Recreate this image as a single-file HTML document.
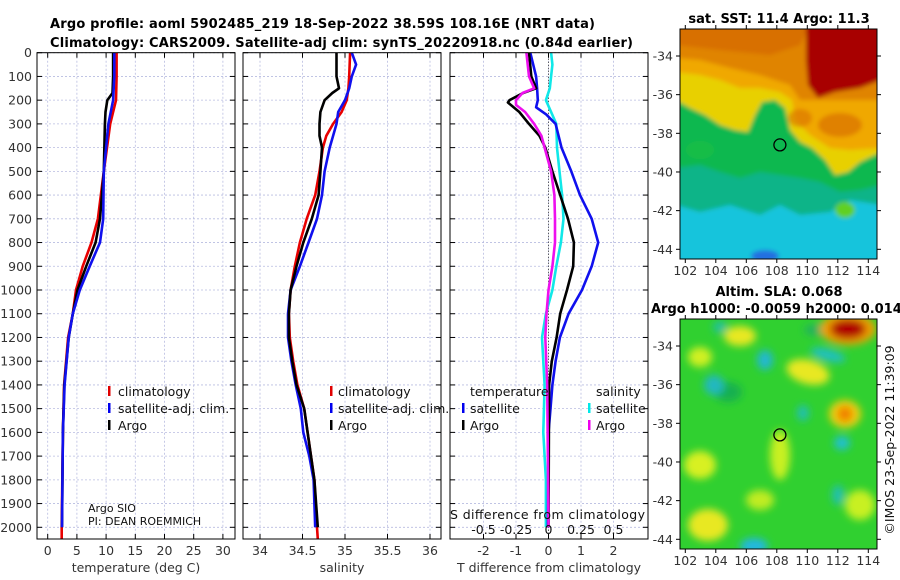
<!DOCTYPE html>
<html><head><meta charset="utf-8">
<style>
html,body{margin:0;padding:0;background:#fff;}
svg{display:block;font-family:"DejaVu Sans","Liberation Sans",sans-serif;}
</style></head>
<body>
<svg id="fig" width="900" height="580" viewBox="0 0 900 580" xmlns="http://www.w3.org/2000/svg">
<defs>
<clipPath id="c1"><rect x="37" y="52.7" width="198" height="486.3"/></clipPath>
<clipPath id="c2"><rect x="243" y="52.7" width="198" height="486.3"/></clipPath>
<clipPath id="c3"><rect x="450" y="52.7" width="198" height="486.3"/></clipPath>
<clipPath id="m1"><rect x="680" y="29" width="197" height="230"/></clipPath>
<clipPath id="m2"><rect x="680" y="319" width="197" height="230"/></clipPath>
<filter id="bl" x="-5%" y="-5%" width="110%" height="110%"><feGaussianBlur stdDeviation="2"/></filter>
<filter id="bl2" x="-20%" y="-20%" width="140%" height="140%"><feGaussianBlur stdDeviation="4"/></filter>
</defs>
<text x="50" y="28" font-size="13" font-weight="bold" textLength="545">Argo profile: aoml 5902485_219 18-Sep-2022 38.59S 108.16E (NRT data)</text>
<text x="50" y="47" font-size="13" font-weight="bold" textLength="583">Climatology: CARS2009. Satellite-adj clim: synTS_20220918.nc (0.84d earlier)</text>

<g id="grid"></g>
<g id="series"></g>
<g id="axes"></g>

<g font-size="12.5" fill="#111">
<rect x="108" y="386" width="2.5" height="10" fill="#e00000"/><text x="118" y="396">climatology</text>
<rect x="108" y="403" width="2.5" height="10" fill="#0000ee"/><text x="118" y="413">satellite-adj. clim.</text>
<rect x="108" y="420" width="2.5" height="10" fill="#000"/><text x="118" y="430">Argo</text>
</g>
<g font-size="12.5" fill="#111">
<rect x="330" y="386" width="2.5" height="10" fill="#e00000"/><text x="338" y="396">climatology</text>
<rect x="330" y="403" width="2.5" height="10" fill="#0000ee"/><text x="338" y="413">satellite-adj. clim.</text>
<rect x="330" y="420" width="2.5" height="10" fill="#000"/><text x="338" y="430">Argo</text>
</g>
<g font-size="12.5" fill="#111">
<text x="470" y="396">temperature</text>
<rect x="462" y="403" width="2.5" height="10" fill="#0000ee"/><text x="470" y="413">satellite</text>
<rect x="462" y="420" width="2.5" height="10" fill="#000"/><text x="470" y="430">Argo</text>
<text x="596" y="396">salinity</text>
<rect x="588" y="403" width="2.5" height="10" fill="#00e8e8"/><text x="596" y="413">satellite</text>
<rect x="588" y="420" width="2.5" height="10" fill="#ee00ee"/><text x="596" y="430">Argo</text>
</g>
<g font-size="11" fill="#111">
<text x="88" y="512">Argo SIO</text>
<text x="88" y="525">PI: DEAN ROEMMICH</text>
</g>
<text x="450" y="519" font-size="12.5" fill="#111" textLength="195">S difference from climatology</text>
<g id="sdiffticks" font-size="12.5" fill="#111" text-anchor="middle"></g>

<!-- SST map -->
<g>
<g clip-path="url(#m1)">
<g filter="url(#bl)">
<rect x="676" y="25" width="205" height="238" fill="#18c4dc"/>
<path d="M676,25 L881,25 L881,205 L850,200 L830,212 L800,215 L780,205 L760,215 L730,205 L700,212 L676,205 Z" fill="#10b488"/>
<path d="M676,25 L881,25 L881,185 L860,190 L840,192 L820,182 L800,178 L780,175 L760,172 L740,178 L720,172 L700,165 L676,168 Z" fill="#10b850"/>
<path d="M676,25 L881,25 L881,152 L860,162 L848,172 L835,175 L825,160 L812,148 L800,142 L790,130 L785,108 L775,100 L762,102 L755,115 L748,132 L735,130 L720,125 L705,115 L690,108 L676,100 Z" fill="#e8d000"/>
<path d="M676,25 L881,25 L881,148 L850,150 L830,148 L810,135 L795,120 L792,100 L780,92 L760,88 L740,88 L720,80 L700,75 L676,72 Z" fill="#f0a800"/>
<path d="M676,25 L881,25 L881,100 L800,100 L790,85 L760,75 L730,68 L700,60 L676,58 Z" fill="#e08400"/>
<path d="M676,25 L810,25 L800,45 L770,55 L720,50 L676,45 Z" fill="#d87000"/>
<path d="M806,25 L881,25 L881,80 L860,88 L835,92 L818,98 L808,85 L806,60 Z" fill="#a80000"/>
<ellipse cx="840" cy="125" rx="22" ry="12" fill="#d87000" opacity="0.7"/>
<ellipse cx="800" cy="118" rx="12" ry="9" fill="#d87000" opacity="0.6"/>
<ellipse cx="845" cy="210" rx="10" ry="8" fill="#60d020"/>
<ellipse cx="765" cy="256" rx="14" ry="6" fill="#2070e0"/>
<ellipse cx="700" cy="150" rx="14" ry="9" fill="#20c040" opacity="0.6"/>
</g>
</g>
<rect x="680" y="29" width="197" height="230" fill="none" stroke="#000" stroke-width="1"/>
<g clip-path="url(#m1)"><ellipse cx="884" cy="56" rx="7" ry="24" fill="none" stroke="#000" stroke-width="1.2"/></g>
<circle cx="779.9" cy="144.9" r="6" fill="none" stroke="#000" stroke-width="1.3"/>
<text x="779" y="23" font-size="13" font-weight="bold" text-anchor="middle">sat. SST: 11.4 Argo: 11.3</text>
<g id="map1ticks" font-size="12.5" fill="#333"></g>
</g>

<!-- SLA map -->
<g>
<g clip-path="url(#m2)">
<rect x="676" y="315" width="205" height="238" fill="#30d030"/>
<g filter="url(#bl2)">
<ellipse cx="740" cy="336" rx="16" ry="10" fill="#e8e820"/>
<ellipse cx="700" cy="357" rx="12" ry="10" fill="#d0f020"/>
<ellipse cx="808" cy="372" rx="22" ry="12" fill="#e8e820" transform="rotate(15 808 372)"/>
<ellipse cx="708" cy="525" rx="20" ry="16" fill="#e8e820"/>
<ellipse cx="700" cy="465" rx="16" ry="14" fill="#d8f020"/>
<ellipse cx="780" cy="455" rx="10" ry="25" fill="#c8f020"/>
<ellipse cx="860" cy="505" rx="15" ry="15" fill="#c8f020"/>
<ellipse cx="760" cy="500" rx="14" ry="10" fill="#c0ec20"/>
<ellipse cx="820" cy="330" rx="16" ry="6" fill="#20b060"/>
<ellipse cx="728" cy="392" rx="14" ry="10" fill="#18b050"/>
<ellipse cx="765" cy="360" rx="8" ry="10" fill="#20b8d0"/>
<ellipse cx="714" cy="385" rx="10" ry="10" fill="#20b8c0"/>
<ellipse cx="803" cy="413" rx="6" ry="8" fill="#20c0b0"/>
<ellipse cx="842" cy="443" rx="8" ry="7" fill="#20c0d0"/>
<ellipse cx="838" cy="495" rx="6" ry="10" fill="#20c0b0"/>
<ellipse cx="720" cy="327" rx="7" ry="6" fill="#20c0a0"/>
<ellipse cx="828" cy="355" rx="18" ry="6" fill="#20c0c0" transform="rotate(15 828 355)"/>
<ellipse cx="754" cy="546" rx="14" ry="8" fill="#20b8e0"/>
<ellipse cx="845" cy="414" rx="16" ry="14" fill="#f0d010"/>
<ellipse cx="845" cy="414" rx="8" ry="8" fill="#f08000"/>
<ellipse cx="848" cy="329" rx="28" ry="16" fill="#f0a000"/>
<ellipse cx="848" cy="329" rx="18" ry="10" fill="#b00000"/>
</g>
</g>
<rect x="680" y="319" width="197" height="230" fill="none" stroke="#000" stroke-width="1"/>
<g clip-path="url(#m2)"><ellipse cx="884" cy="346" rx="7" ry="24" fill="none" stroke="#000" stroke-width="1.2"/></g>
<circle cx="779.9" cy="434.9" r="6" fill="none" stroke="#000" stroke-width="1.3"/>
<text x="779" y="296" font-size="13" font-weight="bold" text-anchor="middle">Altim. SLA: 0.068</text>
<text x="651" y="313" font-size="13" font-weight="bold">Argo h1000: -0.0059 h2000: 0.014</text>
<g id="map2ticks" font-size="12.5" fill="#333"></g>
</g>
<text transform="translate(894,440) rotate(-90)" font-size="12.5" fill="#111" text-anchor="middle">©IMOS 23-Sep-2022 11:39:09</text>
</svg>
<script>
// ---- data ----
const depthTicks = [0,100,200,300,400,500,600,700,800,900,1000,1100,1200,1300,1400,1500,1600,1700,1800,1900,2000];
const tempTicks = [0,5,10,15,20,25,30];
const salTicks = [34,34.5,35,35.5,36];
const tdiffTicks = [-2,-1,0,1,2];
const sdiffTicks = [-0.5,-0.25,0,0.25,0.5];
const sdiffTickLabels = ["-0.5","-0.25","0","0.25","0.5"];

const tClimDepth = [0,100,200,300,500,700,800,900,1000,1100,1200,1400,1600,2000,2050];
const tClim =      [11.8,11.8,11.7,10.7,9.6,8.6,7.5,6.0,4.85,4.3,3.5,2.8,2.6,2.4,2.4];
const tSatDepth = [0,100,200,300,500,700,800,900,1000,1100,1200,1400,1600,2000];
const tSat =      [11.4,11.4,11.2,10.4,9.6,9.5,8.95,7.2,5.5,4.3,3.6,2.9,2.6,2.45];
const tArgoDepth = [0,100,170,200,250,300,500,700,800,900,1000,1100,1200,1400,1600,2000];
const tArgo =      [11.2,11.2,11.1,10.2,9.9,9.8,9.6,8.95,8.2,6.6,5.1,4.3,3.6,2.85,2.6,2.45];

const sClimDepth = [0,100,150,200,250,300,350,400,500,600,700,800,900,1000,1100,1200,1300,1400,1500,1600,1800,2000,2050];
const sClim =      [35.06,35.05,35.04,35.02,34.96,34.86,34.78,34.74,34.70,34.65,34.55,34.47,34.41,34.36,34.34,34.35,34.39,34.44,34.52,34.56,34.64,34.67,34.68];
const sSatDepth = [0,50,100,150,200,250,300,350,400,500,600,700,800,900,1000,1100,1200,1300,1400,1500,1600,1700,1800,2000];
const sSat =      [35.08,35.13,35.08,35.05,35.0,34.92,34.90,34.86,34.82,34.76,34.73,34.67,34.57,34.47,34.36,34.33,34.33,34.37,34.42,34.48,34.51,34.58,34.63,34.65];
const sArgoDepth = [0,100,150,170,200,250,300,350,400,500,600,700,800,900,1000,1100,1200,1300,1400,1500,1600,1800,2000];
const sArgo =      [34.90,34.90,34.93,34.85,34.76,34.71,34.70,34.70,34.73,34.71,34.69,34.61,34.51,34.43,34.36,34.34,34.34,34.38,34.43,34.52,34.56,34.64,34.68];

const dTSatDepth = [0,100,150,200,230,260,300,400,500,600,700,800,900,1000,1100,1200,1300,1400,1500,1600,2000];
const dTSat =      [-0.56,-0.38,-0.35,-0.33,-0.38,-0.07,0.22,0.4,0.7,0.97,1.33,1.53,1.33,1.03,0.62,0.35,0.22,0.12,0.06,0.0,-0.02];
const dTArgoDepth = [0,100,150,170,200,210,250,300,350,400,500,600,700,800,900,1000,1100,1200,1300,1400,2000];
const dTArgo =      [-0.6,-0.53,-0.38,-0.78,-1.2,-1.25,-0.9,-0.6,-0.28,-0.1,0.12,0.36,0.6,0.78,0.76,0.57,0.36,0.25,0.1,0.02,0.0];
const dSSatDepth = [0,50,100,150,200,250,300,400,500,600,700,800,900,1000,1100,1200,1400,1600,1800,2000];
const dSSat =      [0.02,0.03,0.02,0.01,-0.02,0.02,0.06,0.065,0.085,0.105,0.115,0.095,0.06,0.03,-0.02,-0.05,-0.03,-0.04,-0.02,-0.02];
const dSArgoDepth = [0,100,150,170,200,220,250,300,350,400,500,600,700,800,900,1000,1100,1200,1400,2000];
const dSArgo =      [-0.17,-0.15,-0.11,-0.2,-0.25,-0.25,-0.18,-0.11,-0.055,-0.03,0.02,0.045,0.05,0.05,0.03,0.0,-0.015,-0.025,-0.01,0.0];

const lonTicks = [102,104,106,108,110,112,114];
const latTicks = [-34,-36,-38,-40,-42,-44];

// ---- axes functions ----
const Y0=52.7, PY=0.2373;
const yD = d => Y0 + d*PY;
const xT = t => 47.7 + t*5.84;
const xS = s => 260 + (s-34)*85;
const xDT = t => 548.5 + t*32.5;
const xDS = s => 548.5 + s*130;
const mLon = l => 685.3 + (l-102)*15.25;
const m1Lat = l => 56 + (-34-l)*19.33;
const m2Lat = l => 346 + (-34-l)*19.33;

const NS="http://www.w3.org/2000/svg";
function mk(tag, attrs, parent){const e=document.createElementNS(NS,tag);for(const k in attrs)e.setAttribute(k,attrs[k]);parent.appendChild(e);return e;}
const grid=document.getElementById('grid'), series=document.getElementById('series'), axes=document.getElementById('axes');
const panels=[{x:37,xs:xT,ticks:tempTicks,clip:'c1',title:'temperature (deg C)',name:'temperature'},
  {x:243,xs:xS,ticks:salTicks,clip:'c2',title:'salinity',name:'salinity'},
  {x:450,xs:xDT,ticks:tdiffTicks,clip:'c3',title:'T difference from climatology',name:'difference'}];
const W=198, YB=539;
panels.forEach((p,pi)=>{
  depthTicks.forEach(d=>{
    const l=mk('line',{x1:p.x,x2:p.x+W,y1:yD(d),y2:yD(d),stroke:'#b8bce0','stroke-width':0.8,'stroke-dasharray':'2,2'},grid);
    
    
    mk('line',{x1:p.x,x2:p.x+5,y1:yD(d),y2:yD(d),stroke:'#000'},axes);
    mk('line',{x1:p.x+W-5,x2:p.x+W,y1:yD(d),y2:yD(d),stroke:'#000'},axes);
    if(pi===0){const t=mk('text',{x:32,y:yD(d)+4.5,'font-size':12.5,fill:'#333','text-anchor':'end'},axes);t.textContent=d;
      
      }
  });
  p.ticks.forEach(v=>{
    const x=p.xs(v);
    const g=mk('line',{x1:x,x2:x,y1:Y0,y2:YB,stroke:'#b8bce0','stroke-width':0.8,'stroke-dasharray':'2,2'},grid);
    
    
    mk('line',{x1:x,x2:x,y1:YB-5,y2:YB,stroke:'#000'},axes);
    mk('line',{x1:x,x2:x,y1:Y0,y2:Y0+5,stroke:'#000'},axes);
    const t=mk('text',{x:x,y:555,'font-size':12.5,fill:'#333','text-anchor':'middle'},axes);t.textContent=v;
    
    
  });
  const r=mk('rect',{x:p.x,y:Y0,width:W,height:YB-Y0,fill:'none',stroke:'#000','stroke-width':1},axes);
  
  
  const t=mk('text',{x:p.x+W/2,y:572,'font-size':12.5,fill:'#333','text-anchor':'middle'},axes);t.textContent=p.title;
  
  
});
const zl=mk('line',{x1:xDT(0),x2:xDT(0),y1:Y0,y2:YB,stroke:'#333','stroke-width':1,'stroke-dasharray':'1,2'},grid);


const sdg=document.getElementById('sdiffticks');
sdiffTicks.forEach((v,i)=>{const t=mk('text',{x:xDS(v),y:534},sdg);t.textContent=sdiffTickLabels[i];});

function drawLine(depths, vals, xs, color, clip, name){
  const pts=depths.map((d,i)=>xs(vals[i]).toFixed(1)+','+yD(d).toFixed(1)).join(' ');
  const pl=mk('polyline',{points:pts,fill:'none',stroke:color,'stroke-width':2.6,'stroke-linejoin':'round','clip-path':'url(#'+clip+')'},series);
  
  
}
drawLine(tClimDepth,tClim,xT,'#e80000','c1','temp-climatology-line');
drawLine(tArgoDepth,tArgo,xT,'#000','c1','temp-argo-line');
drawLine(tSatDepth,tSat,xT,'#1010ee','c1','temp-satellite-line');
drawLine(sClimDepth,sClim,xS,'#e80000','c2','sal-climatology-line');
drawLine(sSatDepth,sSat,xS,'#1010ee','c2','sal-satellite-line');
drawLine(sArgoDepth,sArgo,xS,'#000','c2','sal-argo-line');
drawLine(dSSatDepth,dSSat,xDS,'#10e8e8','c3','sdiff-satellite-line');
drawLine(dTSatDepth,dTSat,xDT,'#1010ee','c3','tdiff-satellite-line');
drawLine(dTArgoDepth,dTArgo,xDT,'#000','c3','tdiff-argo-line');
drawLine(dSArgoDepth,dSArgo,xDS,'#ee10ee','c3','sdiff-argo-line');

function mapTicks(gid, latf, yBottom, yTop){
  const g=document.getElementById(gid);
  lonTicks.forEach(l=>{const x=mLon(l);
    mk('line',{x1:x,x2:x,y1:yBottom,y2:yBottom+4,stroke:'#000'},g);
    mk('line',{x1:x,x2:x,y1:yTop-4,y2:yTop,stroke:'#000'},g);
    const t=mk('text',{x:x,y:yBottom+16,'text-anchor':'middle'},g);t.textContent=l;
    
    });
  latTicks.forEach(l=>{const y=latf(l);
    mk('line',{x1:676,x2:680,y1:y,y2:y,stroke:'#000'},g);
    mk('line',{x1:877,x2:881,y1:y,y2:y,stroke:'#000'},g);
    const t=mk('text',{x:673,y:y+4.5,'text-anchor':'end'},g);t.textContent=l;
    
    });
}
mapTicks('map1ticks',m1Lat,259,29);
mapTicks('map2ticks',m2Lat,549,319);
</script>
</body></html>
